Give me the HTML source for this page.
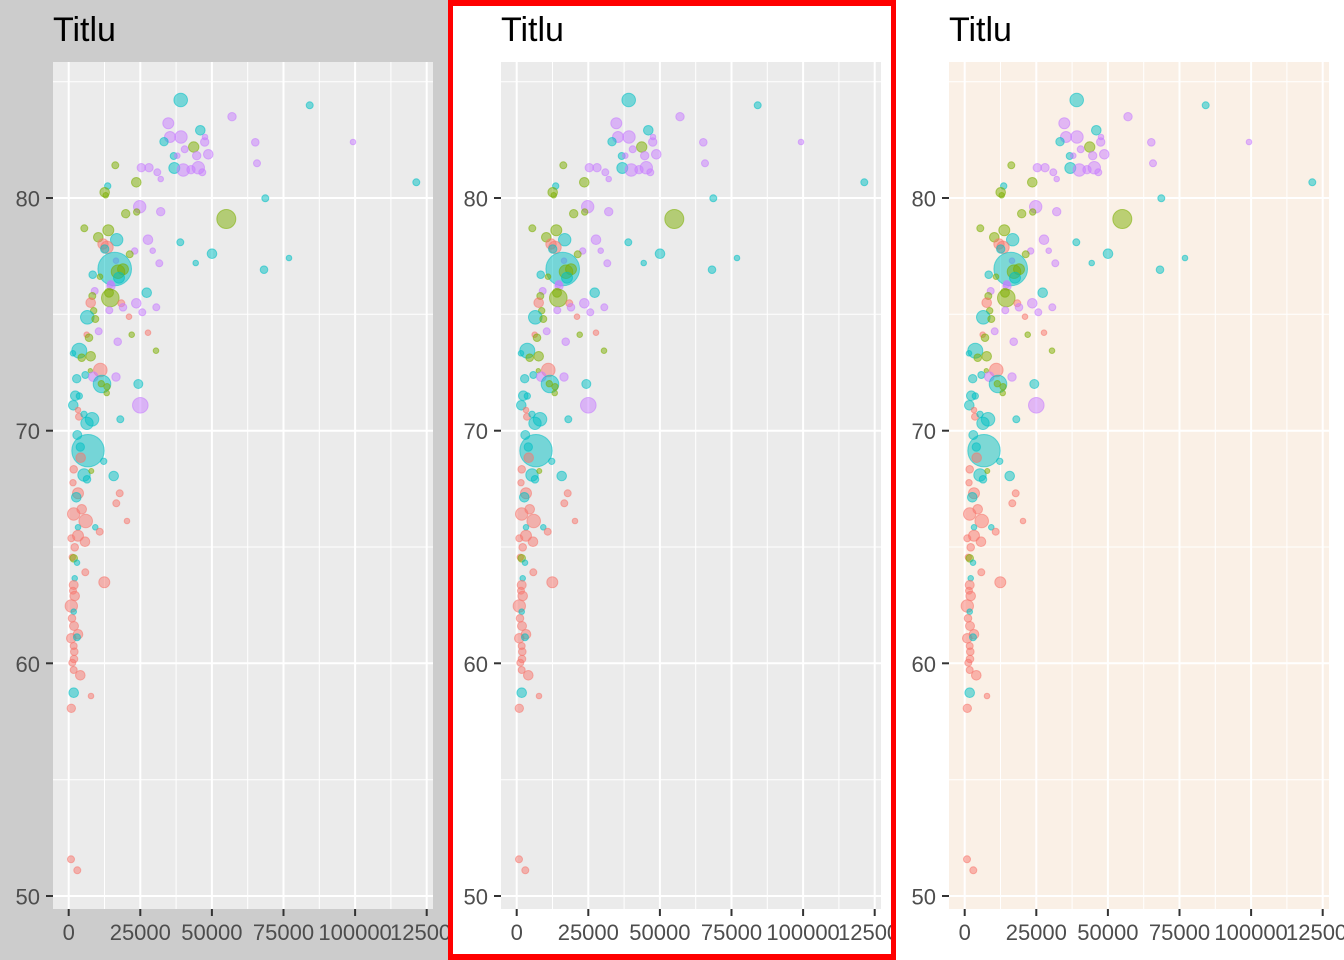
<!DOCTYPE html>
<html><head><meta charset="utf-8"><style>
html,body{margin:0;padding:0;background:#fff;}
svg{display:block;}
text{font-family:"Liberation Sans",Arial,sans-serif;}
.r{fill:#F8766D;stroke:#F8766D}
.g{fill:#7CAE00;stroke:#7CAE00}
.c{fill:#00BFC4;stroke:#00BFC4}
.p{fill:#C77CFF;stroke:#C77CFF}
circle{fill-opacity:.5;stroke-opacity:.55;stroke-width:1}
.ax{font-size:22px;fill:#4D4D4D}
.tt{font-size:34px;fill:#000}
</style></head><body>
<svg width="1344" height="960" viewBox="0 0 1344 960" xmlns="http://www.w3.org/2000/svg">
<defs>
<g id="grid">
 <g stroke="#fff" stroke-width="1">
  <line x1="104.5" y1="62" x2="104.5" y2="909"/><line x1="176.1" y1="62" x2="176.1" y2="909"/>
  <line x1="247.7" y1="62" x2="247.7" y2="909"/><line x1="319.3" y1="62" x2="319.3" y2="909"/>
  <line x1="390.9" y1="62" x2="390.9" y2="909"/>
  <line x1="53" y1="81.7" x2="433" y2="81.7"/><line x1="53" y1="314.3" x2="433" y2="314.3"/>
  <line x1="53" y1="547" x2="433" y2="547"/><line x1="53" y1="779.7" x2="433" y2="779.7"/>
 </g>
 <g stroke="#fff" stroke-width="2">
  <line x1="68.7" y1="62" x2="68.7" y2="909"/><line x1="140.3" y1="62" x2="140.3" y2="909"/>
  <line x1="211.9" y1="62" x2="211.9" y2="909"/><line x1="283.5" y1="62" x2="283.5" y2="909"/>
  <line x1="355.1" y1="62" x2="355.1" y2="909"/><line x1="426.7" y1="62" x2="426.7" y2="909"/>
  <line x1="53" y1="198" x2="433" y2="198"/><line x1="53" y1="430.7" x2="433" y2="430.7"/>
  <line x1="53" y1="663.3" x2="433" y2="663.3"/><line x1="53" y1="896" x2="433" y2="896"/>
 </g>
 <g stroke="#333" stroke-width="2">
  <line x1="46" y1="198" x2="53" y2="198"/><line x1="46" y1="430.7" x2="53" y2="430.7"/>
  <line x1="46" y1="663.3" x2="53" y2="663.3"/><line x1="46" y1="896" x2="53" y2="896"/>
  <line x1="68.7" y1="909" x2="68.7" y2="916"/><line x1="140.3" y1="909" x2="140.3" y2="916"/>
  <line x1="211.9" y1="909" x2="211.9" y2="916"/><line x1="283.5" y1="909" x2="283.5" y2="916"/>
  <line x1="355.1" y1="909" x2="355.1" y2="916"/><line x1="426.7" y1="909" x2="426.7" y2="916"/>
 </g>
</g>
<g id="pts">
<circle class="c" cx="180.7" cy="100" r="6.8"/>
<circle class="p" cx="232" cy="116.7" r="4.2"/>
<circle class="p" cx="168.3" cy="123.3" r="5.5"/>
<circle class="c" cx="200.3" cy="130.3" r="4.8"/>
<circle class="p" cx="170" cy="137" r="5.5"/>
<circle class="p" cx="181" cy="137" r="6.2"/>
<circle class="c" cx="164" cy="141.7" r="4.2"/>
<circle class="p" cx="205" cy="137" r="2.8"/>
<circle class="p" cx="204.7" cy="142" r="4.2"/>
<circle class="g" cx="193.7" cy="147" r="5.2"/>
<circle class="p" cx="184.7" cy="149.3" r="3.5"/>
<circle class="p" cx="255.3" cy="142.3" r="3.8"/>
<circle class="p" cx="353" cy="142" r="2.8"/>
<circle class="c" cx="309.7" cy="105.3" r="3.5"/>
<circle class="p" cx="196.7" cy="155.7" r="4.2"/>
<circle class="p" cx="208.3" cy="154.3" r="4.8"/>
<circle class="c" cx="173.7" cy="156" r="3.5"/>
<circle class="p" cx="177.3" cy="155.7" r="2.8"/>
<circle class="g" cx="115.3" cy="165.3" r="3.5"/>
<circle class="p" cx="141.3" cy="167.7" r="4.2"/>
<circle class="p" cx="149" cy="167.7" r="4.2"/>
<circle class="c" cx="174.3" cy="168" r="5.5"/>
<circle class="p" cx="183.3" cy="170" r="6.2"/>
<circle class="p" cx="191" cy="169.7" r="4.2"/>
<circle class="p" cx="198.3" cy="167.7" r="6.2"/>
<circle class="p" cx="202.3" cy="172.3" r="3.5"/>
<circle class="p" cx="157.3" cy="172.3" r="3.5"/>
<circle class="p" cx="160.7" cy="179" r="2.8"/>
<circle class="p" cx="257" cy="163.3" r="3.5"/>
<circle class="g" cx="136.3" cy="182.3" r="4.8"/>
<circle class="c" cx="416.3" cy="182.3" r="3.5"/>
<circle class="c" cx="107.7" cy="186" r="3.2"/>
<circle class="g" cx="104.7" cy="192.3" r="4.8"/>
<circle class="g" cx="105.7" cy="195.3" r="2.8"/>
<circle class="c" cx="265.3" cy="198.3" r="3.5"/>
<circle class="p" cx="139.7" cy="206.7" r="6.2"/>
<circle class="p" cx="160.7" cy="211.7" r="4.2"/>
<circle class="g" cx="125.7" cy="213.7" r="4.2"/>
<circle class="g" cx="136.7" cy="212" r="3.2"/>
<circle class="g" cx="226.3" cy="219" r="9.5"/>
<circle class="g" cx="84.3" cy="228.3" r="3.5"/>
<circle class="g" cx="108.3" cy="230.3" r="5.5"/>
<circle class="g" cx="98.3" cy="237.3" r="4.8"/>
<circle class="c" cx="116.7" cy="239.7" r="6.2"/>
<circle class="p" cx="148" cy="239.7" r="4.8"/>
<circle class="c" cx="180.3" cy="242.3" r="3.5"/>
<circle class="r" cx="103" cy="244" r="5.2"/>
<circle class="r" cx="107" cy="247.3" r="6.2"/>
<circle class="c" cx="104.7" cy="249" r="4.2"/>
<circle class="p" cx="152.7" cy="250.7" r="2.8"/>
<circle class="c" cx="212" cy="253.7" r="4.8"/>
<circle class="p" cx="134.7" cy="251" r="3.2"/>
<circle class="g" cx="129.7" cy="254.3" r="3.5"/>
<circle class="c" cx="195.7" cy="263" r="2.8"/>
<circle class="c" cx="289" cy="258" r="2.8"/>
<circle class="c" cx="264" cy="269.7" r="3.8"/>
<circle class="p" cx="159.3" cy="263.3" r="3.5"/>
<circle class="p" cx="116" cy="260.7" r="2.8"/>
<circle class="c" cx="114.7" cy="269" r="16.8"/>
<circle class="g" cx="118" cy="271.7" r="6.8"/>
<circle class="g" cx="123" cy="269.3" r="5.5"/>
<circle class="c" cx="92.7" cy="274.7" r="3.8"/>
<circle class="g" cx="100" cy="276.7" r="2.8"/>
<circle class="c" cx="119" cy="277.7" r="5.5"/>
<circle class="p" cx="110.7" cy="284" r="3.5"/>
<circle class="p" cx="111" cy="286" r="4.2"/>
<circle class="p" cx="94.7" cy="291" r="3.5"/>
<circle class="g" cx="92.3" cy="296" r="3.5"/>
<circle class="g" cx="110.3" cy="298" r="8.8"/>
<circle class="g" cx="109" cy="292.7" r="4.5"/>
<circle class="c" cx="146.7" cy="292.7" r="4.8"/>
<circle class="r" cx="90.7" cy="302.7" r="4.8"/>
<circle class="r" cx="121.3" cy="303.3" r="3.5"/>
<circle class="p" cx="136.3" cy="303.3" r="4.8"/>
<circle class="p" cx="123" cy="307.3" r="3.8"/>
<circle class="p" cx="156.3" cy="307.3" r="3.5"/>
<circle class="g" cx="93.7" cy="310.7" r="3.2"/>
<circle class="p" cx="109.3" cy="310.3" r="3.5"/>
<circle class="p" cx="142.3" cy="312.3" r="3.5"/>
<circle class="c" cx="87.3" cy="317.3" r="6.8"/>
<circle class="g" cx="95.3" cy="319" r="3.5"/>
<circle class="r" cx="129" cy="316.7" r="2.8"/>
<circle class="p" cx="98.7" cy="331.3" r="3.5"/>
<circle class="r" cx="86.7" cy="334.7" r="2.8"/>
<circle class="g" cx="89" cy="337.7" r="3.8"/>
<circle class="g" cx="131.7" cy="334.7" r="2.8"/>
<circle class="r" cx="148" cy="332.7" r="2.8"/>
<circle class="p" cx="117.7" cy="341.7" r="3.8"/>
<circle class="g" cx="156" cy="350.7" r="2.8"/>
<circle class="c" cx="79.3" cy="350.7" r="7.5"/>
<circle class="c" cx="73" cy="353.3" r="2.8"/>
<circle class="g" cx="81.7" cy="357.7" r="3.8"/>
<circle class="g" cx="90.7" cy="356.3" r="4.8"/>
<circle class="r" cx="100.3" cy="370" r="6.8"/>
<circle class="g" cx="90.3" cy="370.7" r="2.2"/>
<circle class="c" cx="85.3" cy="375" r="3.5"/>
<circle class="p" cx="93.3" cy="376.7" r="4.8"/>
<circle class="c" cx="76.7" cy="378.7" r="4.2"/>
<circle class="c" cx="102" cy="384" r="8.8"/>
<circle class="g" cx="101.3" cy="383.7" r="3.2"/>
<circle class="g" cx="107" cy="386.7" r="3.2"/>
<circle class="g" cx="106.7" cy="393" r="2.8"/>
<circle class="p" cx="116" cy="377" r="4.2"/>
<circle class="c" cx="138.3" cy="384" r="4.5"/>
<circle class="c" cx="75.3" cy="395.7" r="4.8"/>
<circle class="c" cx="79.3" cy="396" r="3.2"/>
<circle class="p" cx="140.3" cy="405.3" r="7.8"/>
<circle class="c" cx="73.3" cy="405.3" r="4.8"/>
<circle class="r" cx="78" cy="410" r="2.8"/>
<circle class="r" cx="79" cy="416.7" r="3.5"/>
<circle class="c" cx="84" cy="414.3" r="3.2"/>
<circle class="c" cx="92" cy="419.3" r="6.8"/>
<circle class="c" cx="87" cy="423.3" r="6.2"/>
<circle class="c" cx="120.3" cy="419.3" r="3.5"/>
<circle class="c" cx="77.3" cy="435" r="4.5"/>
<circle class="c" cx="88" cy="450.7" r="16.2"/>
<circle class="c" cx="80.3" cy="447" r="4.2"/>
<circle class="r" cx="80.7" cy="457.7" r="4.8"/>
<circle class="c" cx="103.7" cy="461.3" r="3.2"/>
<circle class="r" cx="73.7" cy="469.3" r="3.8"/>
<circle class="c" cx="84" cy="475" r="6.2"/>
<circle class="c" cx="113.7" cy="476" r="4.8"/>
<circle class="g" cx="91.3" cy="471" r="2.5"/>
<circle class="c" cx="87" cy="479.3" r="3.8"/>
<circle class="r" cx="73" cy="482.7" r="3.2"/>
<circle class="r" cx="78" cy="493.3" r="5.5"/>
<circle class="r" cx="119.7" cy="493.3" r="3.5"/>
<circle class="c" cx="76.3" cy="497.3" r="4.8"/>
<circle class="r" cx="116.3" cy="503.3" r="3.5"/>
<circle class="r" cx="81.7" cy="509.3" r="4.8"/>
<circle class="r" cx="73.7" cy="514" r="6.2"/>
<circle class="r" cx="85.7" cy="521" r="6.8"/>
<circle class="r" cx="127" cy="521" r="2.8"/>
<circle class="c" cx="78" cy="527.3" r="2.8"/>
<circle class="c" cx="95.3" cy="527.3" r="2.8"/>
<circle class="r" cx="99.7" cy="531.7" r="3.5"/>
<circle class="r" cx="78" cy="535.7" r="5.5"/>
<circle class="r" cx="71.3" cy="538.3" r="3.5"/>
<circle class="r" cx="85" cy="541.7" r="4.8"/>
<circle class="r" cx="74.7" cy="547.3" r="3.8"/>
<circle class="r" cx="72.3" cy="557.3" r="3.2"/>
<circle class="g" cx="73.7" cy="558.3" r="3.8"/>
<circle class="c" cx="77" cy="562.7" r="2.8"/>
<circle class="r" cx="85.3" cy="572.3" r="3.5"/>
<circle class="r" cx="104.3" cy="582.3" r="5.5"/>
<circle class="c" cx="74.7" cy="578.3" r="2.8"/>
<circle class="r" cx="73.7" cy="585" r="4.5"/>
<circle class="r" cx="73" cy="590.7" r="3.5"/>
<circle class="r" cx="74.7" cy="596" r="4.8"/>
<circle class="r" cx="71.3" cy="606" r="6.2"/>
<circle class="c" cx="73.7" cy="611.7" r="2.8"/>
<circle class="r" cx="72" cy="618.3" r="3.8"/>
<circle class="r" cx="74" cy="626" r="4.5"/>
<circle class="r" cx="78" cy="634.3" r="4.8"/>
<circle class="r" cx="71.3" cy="638.3" r="4.8"/>
<circle class="c" cx="77" cy="637.3" r="3.5"/>
<circle class="r" cx="73.7" cy="646" r="3.5"/>
<circle class="r" cx="74.3" cy="651.7" r="3.8"/>
<circle class="r" cx="74" cy="659" r="3.8"/>
<circle class="r" cx="72.3" cy="662.7" r="3.5"/>
<circle class="r" cx="73.7" cy="670" r="3.5"/>
<circle class="r" cx="80.3" cy="675.3" r="4.8"/>
<circle class="c" cx="73.7" cy="692.7" r="4.8"/>
<circle class="r" cx="91" cy="696" r="2.8"/>
<circle class="r" cx="71.3" cy="708.3" r="4.2"/>
<circle class="r" cx="71" cy="859.3" r="3.5"/>
<circle class="r" cx="77.3" cy="870.3" r="3.5"/>
</g>
</defs>

<!-- Plot 1 -->
<svg x="0" y="0" width="448" height="960" viewBox="0 0 448 960">
 <rect x="0" y="0" width="448" height="960" fill="#CCCCCC"/>
 <rect x="53" y="62" width="380" height="847" fill="#EBEBEB"/>
 <use href="#grid"/>
 <use href="#pts"/>
 <text class="tt" x="53" y="41">Titlu</text>
 <g class="ax" text-anchor="end">
  <text x="40" y="206.5">80</text><text x="40" y="439.2">70</text>
  <text x="40" y="671.8">60</text><text x="40" y="904.5">50</text>
 </g>
 <g class="ax" text-anchor="middle">
  <text x="68.7" y="940">0</text><text x="140.3" y="940">25000</text>
  <text x="211.9" y="940">50000</text><text x="283.5" y="940">75000</text>
  <text x="355.1" y="940">100000</text><text x="426.7" y="940">125000</text>
 </g>
</svg>

<!-- Plot 2 -->
<svg x="448" y="0" width="448" height="960" viewBox="0 0 448 960">
 <rect x="0" y="0" width="448" height="960" fill="#FFFFFF"/>
 <rect x="53" y="62" width="380" height="847" fill="#EBEBEB"/>
 <use href="#grid"/>
 <use href="#pts"/>
 <text class="tt" x="53" y="41">Titlu</text>
 <g class="ax" text-anchor="end">
  <text x="40" y="206.5">80</text><text x="40" y="439.2">70</text>
  <text x="40" y="671.8">60</text><text x="40" y="904.5">50</text>
 </g>
 <g class="ax" text-anchor="middle">
  <text x="68.7" y="940">0</text><text x="140.3" y="940">25000</text>
  <text x="211.9" y="940">50000</text><text x="283.5" y="940">75000</text>
  <text x="355.1" y="940">100000</text><text x="426.7" y="940">125000</text>
 </g>
</svg>

<!-- Plot 3 -->
<svg x="896" y="0" width="448" height="960" viewBox="0 0 448 960">
 <rect x="0" y="0" width="448" height="960" fill="#FFFFFF"/>
 <rect x="53" y="62" width="380" height="847" fill="#FAF0E6"/>
 <use href="#grid"/>
 <use href="#pts"/>
 <text class="tt" x="53" y="41">Titlu</text>
 <g class="ax" text-anchor="end">
  <text x="40" y="206.5">80</text><text x="40" y="439.2">70</text>
  <text x="40" y="671.8">60</text><text x="40" y="904.5">50</text>
 </g>
 <g class="ax" text-anchor="middle">
  <text x="68.7" y="940">0</text><text x="140.3" y="940">25000</text>
  <text x="211.9" y="940">50000</text><text x="283.5" y="940">75000</text>
  <text x="355.1" y="940">100000</text><text x="426.7" y="940">125000</text>
 </g>
</svg>

<!-- Red border around plot 2 -->
<g fill="#FF0000">
 <rect x="448" y="0" width="5" height="960"/>
 <rect x="891" y="0" width="5" height="960"/>
 <rect x="448" y="0" width="448" height="6"/>
 <rect x="448" y="954" width="448" height="6"/>
</g>
</svg>
</body></html>
